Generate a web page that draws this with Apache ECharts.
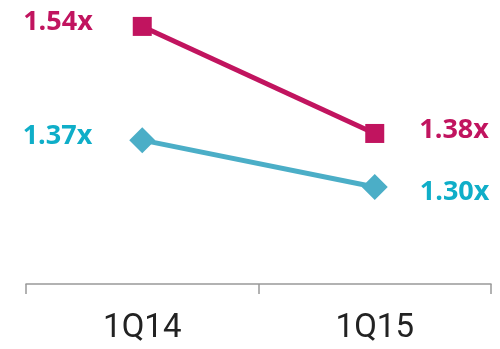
<!DOCTYPE html>
<html><head><meta charset="utf-8">
<script src="https://cdn.jsdelivr.net/npm/echarts@6/dist/echarts.min.js"></script>
<style>html,body{margin:0;padding:0;background:#fff}#c{width:500px;height:349px}</style>
</head><body><div id="c"></div>
<script>
var categories = ['1Q14', '1Q15'];
var magentaValues = [1.54, 1.38];
var cyanValues = [1.37, 1.30];
var magentaLabels = ['1.54x', '1.38x'];
var cyanLabels = ['1.37x', '1.30x'];

var MAG = '#C1145F', CYAN_LINE = '#4BAEC7', CYAN_TEXT = '#0FAEC8';
var chart = echarts.init(document.getElementById('c'));
function mkData(vals, labels, color, offsets) {
  return vals.map(function (v, i) {
    return {
      value: v,
      label: {
        show: true,
        formatter: labels[i],
        position: i === 0 ? 'left' : 'right',
        distance: offsets[i][0],
        offset: [0, offsets[i][1]],
        color: color,
        fontFamily: 'Open Sans',
        fontWeight: 'bold',
        fontSize: 27
      }
    };
  });
}
chart.setOption({
  animation: false,
  grid: { left: 26, right: 9, top: 3, bottom: 65, containLabel: false },
  xAxis: {
    type: 'category',
    data: categories,
    boundaryGap: true,
    axisLine: { lineStyle: { color: '#999', width: 1.5 } },
    axisTick: { show: true, length: 10, alignWithLabel: false, lineStyle: { color: '#999', width: 1.5 } },
    axisLabel: { fontFamily: 'Roboto', fontSize: 33, color: '#222', margin: 28 }
  },
  yAxis: { type: 'value', min: 1.155, max: 1.575, show: false, splitLine: { show: false } },
  series: [
    {
      type: 'line', data: mkData(magentaValues, magentaLabels, MAG, [[40, -4], [35, -3]]),
      symbol: 'rect', symbolSize: 19,
      lineStyle: { color: MAG, width: 5 }, itemStyle: { color: MAG }
    },
    {
      type: 'line', data: mkData(cyanValues, cyanLabels, CYAN_TEXT, [[37, -4], [32, 5]]),
      symbol: 'diamond', symbolSize: 26,
      lineStyle: { color: CYAN_LINE, width: 5 }, itemStyle: { color: CYAN_LINE }
    }
  ]
});
</script></body></html>
